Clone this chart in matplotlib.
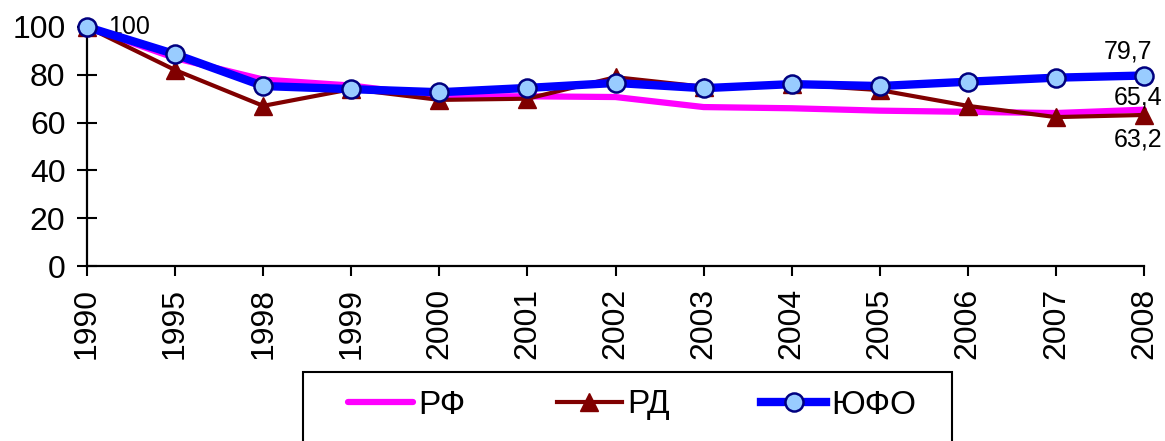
import matplotlib
matplotlib.use("Agg")
import matplotlib.pyplot as plt
from matplotlib.patches import Rectangle

years = ["1990", "1995", "1998", "1999", "2000", "2001", "2002",
         "2003", "2004", "2005", "2006", "2007", "2008"]
rf = [100, 87, 78, 75.5, 71, 71, 70.7, 66.5, 66, 65, 64.5, 64, 65.4]
rd = [100, 82, 67, 74, 69.5, 70, 79, 75, 76, 73.6, 67, 62.3, 63.2]
ufo = [100, 88.6, 75.3, 74, 72.7, 74.5, 76.6, 74.4, 76.1, 75.3, 77.1, 78.8, 79.7]
yticks = [0, 20, 40, 60, 80, 100]

plt.rcParams['font.family'] = ['Liberation Sans', 'DejaVu Sans']

fig = plt.figure(figsize=(11.65, 4.41), dpi=100)
ax = fig.add_axes([87/1165, 1-266/441, (1144-87)/1165, (266-27)/441])
x = list(range(len(years)))

l1, = ax.plot(x, rf, color='#FF00FF', lw=4.5, solid_capstyle='round', zorder=2, label='РФ')
l2, = ax.plot(x, rd, color='#800000', lw=3, marker='^', markersize=13,
              markerfacecolor='#800000', markeredgecolor='#800000', zorder=3, label='РД')
l3, = ax.plot(x, ufo, color='#0000FF', lw=6, marker='o', markersize=13,
              markerfacecolor='#99CCFF', markeredgecolor='#000080', markeredgewidth=1.8,
              zorder=4, label='ЮФО')

ax.set_xlim(0, len(years)-1)
ax.set_ylim(0, 100)
ax.set_yticks(yticks)
ax.set_xticks(x)
ax.set_xticklabels(years, rotation=90, fontsize=23)
ax.tick_params(axis='y', direction='inout', length=15, width=1.5, labelsize=23, pad=8)
ax.tick_params(axis='x', direction='out', length=7, width=1.5, pad=9)
for s in ['top', 'right']:
    ax.spines[s].set_visible(False)
for s in ['left', 'bottom']:
    ax.spines[s].set_linewidth(1.6)
for l in (l1, l2, l3):
    l.set_clip_on(False)

def fmt(v):
    return f"{v:g}".replace('.', ',')

ax.annotate(fmt(ufo[0]), (x[0], ufo[0]), xytext=(15, 0), textcoords='offset points',
            fontsize=18, va='center', ha='left')
ax.annotate(fmt(ufo[-1]), (x[-1], ufo[-1]), xytext=(6, 12.5),
            textcoords='offset points', fontsize=18, va='baseline', ha='right')
ax.annotate(fmt(rf[-1]), (x[-1], rf[-1]), xytext=(13, 3.5),
            textcoords='offset points', fontsize=18, va='baseline', ha='right')
ax.annotate(fmt(rd[-1]), (x[-1], rd[-1]), xytext=(13, -23),
            textcoords='offset points', fontsize=18, va='baseline', ha='right')

# legend frame
fig.patches.append(Rectangle((303/1165, -0.1), (952-303)/1165, 0.1 + 1-372/441,
                             transform=fig.transFigure, fill=False, lw=1.5,
                             edgecolor='black'))
leg = fig.legend(handles=[l1, l2, l3], loc='center left',
                 bbox_to_anchor=(348/1165, 1-405/441), ncol=3, frameon=False,
                 fontsize=24, handlelength=1.95, handletextpad=0.15,
                 columnspacing=2.75, borderpad=0, borderaxespad=0)

fig.savefig('out.png', dpi=100)
